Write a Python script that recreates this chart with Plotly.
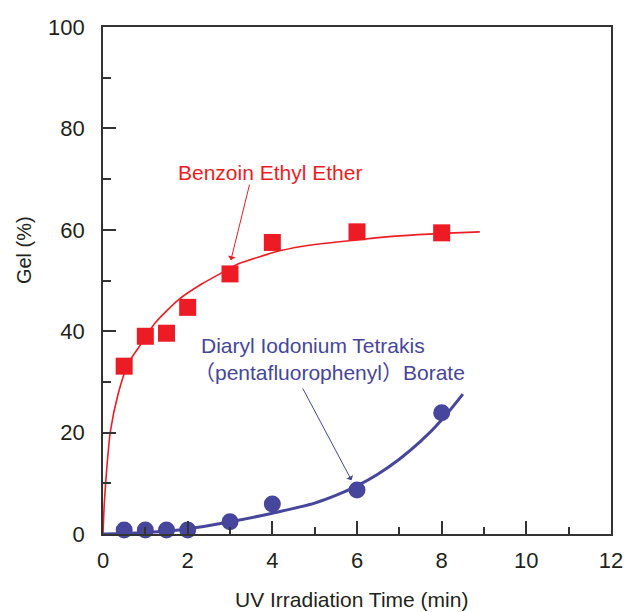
import plotly.graph_objects as go

# Measured data points
bee_x = [0.5, 1.0, 1.5, 2.0, 3.0, 4.0, 6.0, 8.0]
bee_y = [33.1, 39.0, 39.6, 44.7, 51.3, 57.5, 59.6, 59.4]

dib_x = [0.5, 1.0, 1.5, 2.0, 3.0, 4.0, 6.0, 8.0]
dib_y = [0.8, 0.8, 0.8, 0.8, 2.4, 5.9, 8.7, 23.9]

# Fitted curves
bee_fit_x = [0, 0.03, 0.08, 0.17, 0.36, 0.6, 0.91, 1.23, 1.78, 2.33, 2.8, 3.2, 4.2, 5.0, 6.1, 7.0, 8.0, 8.9]
bee_fit_y = [0, 6, 12, 20, 27.7, 33.7, 37.6, 41.6, 46.2, 49.3, 51.5, 53.3, 55.9, 57.1, 58.1, 58.8, 59.3, 59.6]

dib_fit_x = [0, 1, 2, 3, 4, 5, 5.5, 6, 6.5, 7, 7.5, 8, 8.5]
dib_fit_y = [0, 0.3, 1.0, 2.4, 4.1, 6.1, 7.6, 9.5, 11.85, 14.75, 18.25, 22.5, 27.6]

x_ticks = [0, 2, 4, 6, 8, 10, 12]
y_ticks = [0, 20, 40, 60, 80, 100]

RED = "#ED1C24"
BLUE = "#46469C"
AXIS = "#333333"
FONT = "Liberation Sans, Arial, Noto Sans CJK JP, sans-serif"

fig = go.Figure()
fig.add_trace(go.Scatter(x=bee_fit_x, y=bee_fit_y, mode="lines",
                         line=dict(color=RED, width=1.6, shape="spline", smoothing=0.6),
                         hoverinfo="skip", showlegend=False))
fig.add_trace(go.Scatter(x=dib_fit_x, y=dib_fit_y, mode="lines",
                         line=dict(color=BLUE, width=3, shape="spline", smoothing=1.0),
                         hoverinfo="skip", showlegend=False))
fig.add_trace(go.Scatter(x=bee_x, y=bee_y, mode="markers", cliponaxis=False,
                         marker=dict(symbol="square", size=17, color=RED, line=dict(width=0)),
                         showlegend=False))
fig.add_trace(go.Scatter(x=dib_x, y=dib_y, mode="markers", cliponaxis=False,
                         marker=dict(symbol="circle", size=17, color=BLUE, line=dict(width=0)),
                         showlegend=False))

axis_common = dict(showgrid=False, zeroline=False, showline=True, linecolor=AXIS, linewidth=1.6,
                   mirror=True, ticks="inside", tickcolor=AXIS, tickwidth=1.6, ticklen=13,
                   automargin=False,
                   tickfont=dict(family=FONT, size=22, color="#231F20"))

fig.update_xaxes(range=[0, 12], tickvals=x_ticks, ticklabelstandoff=6,
                 minor=dict(dtick=1, ticks="inside", ticklen=7, tickcolor=AXIS, tickwidth=1.6),
                 **axis_common)
fig.update_yaxes(range=[0, 100], tickvals=y_ticks, ticklabelstandoff=12,
                 minor=dict(dtick=10, ticks="inside", ticklen=8, tickcolor=AXIS, tickwidth=1.6),
                 **axis_common)

annotations = [
    # axis titles
    dict(text="UV Irradiation Time (min)", xref="paper", yref="paper", x=0.49, y=-0.13,
         xanchor="center", yanchor="middle", showarrow=False,
         font=dict(family=FONT, size=21, color="#231F20")),
    dict(text="Gel (%)", xref="paper", yref="paper", x=-0.1555, y=0.56, textangle=-90,
         xanchor="center", yanchor="middle", showarrow=False,
         font=dict(family=FONT, size=20, color="#231F20")),
    # series labels
    dict(text="Benzoin Ethyl Ether", x=3.95, y=71.4, xref="x", yref="y",
         xanchor="center", yanchor="middle", showarrow=False,
         font=dict(family=FONT, size=21, color=RED)),
    dict(text="Diaryl Iodonium Tetrakis", x=2.27, y=37.1, xref="x", yref="y",
         xanchor="left", yanchor="middle", showarrow=False,
         font=dict(family=FONT, size=21, color=BLUE)),
    dict(text="（pentafluorophenyl）Borate", x=2.1, y=31.8, xref="x", yref="y",
         xanchor="left", yanchor="middle", showarrow=False,
         font=dict(family=FONT, size=21, color=BLUE)),
    # arrows
    dict(text="", x=3.02, y=54.0, ax=3.47, ay=69.2, xref="x", yref="y", axref="x", ayref="y",
         showarrow=True, arrowhead=1, arrowsize=1.3, arrowwidth=1, arrowcolor=RED),
    dict(text="", x=5.87, y=10.6, ax=4.70, ay=29.0, xref="x", yref="y", axref="x", ayref="y",
         showarrow=True, arrowhead=1, arrowsize=1.3, arrowwidth=1, arrowcolor=BLUE),
]

fig.update_layout(width=627, height=612, margin=dict(l=103, r=16, t=27, b=78),
                  paper_bgcolor="white", plot_bgcolor="white", annotations=annotations)

# remove the browser's default 8px body margin so the figure fills the window exactly
fig.write_html("out.html", config={"displayModeBar": False},
               post_script="document.body.style.margin='0';document.body.style.overflow='hidden';")
